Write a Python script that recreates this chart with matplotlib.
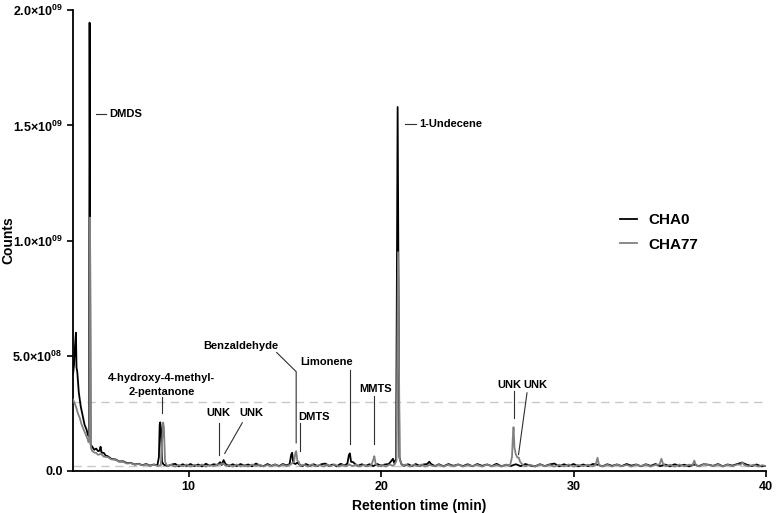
import matplotlib
matplotlib.use("Agg")
import matplotlib.pyplot as plt
import numpy as np

plt.rcParams['font.family'] = ['Liberation Sans', 'DejaVu Sans']
plt.rcParams['font.weight'] = 'bold'
plt.rcParams['mathtext.fontset'] = 'custom'
plt.rcParams['mathtext.rm'] = 'Liberation Sans'
plt.rcParams['mathtext.bf'] = 'Liberation Sans:bold'

# chromatogram traces, counts in units of 1e8
rt_cha0 = [
    4.00, 4.05, 4.10, 4.15, 4.18, 4.22, 4.30, 4.40, 4.50, 4.60, 4.70, 4.78, 4.83, 4.86, 4.91,
    5.00, 5.10, 5.20, 5.30, 5.38, 5.43, 5.48, 5.60, 5.70, 5.80, 6.00, 6.20, 6.40, 6.60, 6.80,
    7.00, 7.20, 7.40, 7.60, 7.80, 8.00, 8.20, 8.38, 8.46, 8.50, 8.53, 8.57, 8.62, 8.70, 8.90,
    9.10, 9.30, 9.50, 9.70, 9.90, 10.10, 10.30, 10.50, 10.70, 10.90, 11.10, 11.30, 11.50, 11.64, 11.72,
    11.82, 11.92, 12.10, 12.30, 12.50, 12.70, 12.90, 13.10, 13.30, 13.50, 13.70, 13.90, 14.10, 14.30, 14.50,
    14.70, 14.90, 15.10, 15.25, 15.33, 15.38, 15.44, 15.55, 15.65, 15.75, 15.90, 16.10, 16.30, 16.50, 16.70,
    16.90, 17.10, 17.30, 17.50, 17.70, 17.90, 18.10, 18.25, 18.33, 18.38, 18.44, 18.55, 18.65, 18.80, 19.00,
    19.20, 19.40, 19.60, 19.80, 20.00, 20.20, 20.40, 20.55, 20.62, 20.68, 20.78, 20.86, 20.95, 21.05, 21.20,
    21.40, 21.60, 21.80, 22.00, 22.20, 22.40, 22.50, 22.60, 22.80, 23.00, 23.25, 23.50, 23.75, 24.00, 24.25,
    24.50, 24.75, 25.00, 25.25, 25.50, 25.75, 26.00, 26.25, 26.50, 26.75, 27.00, 27.25, 27.50, 27.75, 28.00, 28.25,
    28.50, 28.75, 29.00, 29.25, 29.50, 29.75, 30.00, 30.25, 30.50, 30.75, 31.00, 31.25, 31.50, 31.75, 32.00, 32.25,
    32.50, 32.75, 33.00, 33.25, 33.50, 33.75, 34.00, 34.25, 34.50, 34.75, 35.00, 35.25, 35.50, 35.75, 36.00, 36.25,
    36.50, 36.75, 37.00, 37.25, 37.50, 37.75, 38.00, 38.25, 38.50, 38.75, 39.00, 39.25, 39.50, 39.75, 40.00,
]
counts_cha0 = [
    4.20, 4.60, 5.40, 6.00, 4.50, 4.30, 3.40, 2.80, 2.40, 2.00, 1.80, 1.55, 1.50, 19.46, 1.15,
    1.05, 0.92, 0.97, 0.86, 0.88, 1.05, 0.80, 0.78, 0.66, 0.64, 0.52, 0.50, 0.41, 0.42, 0.34,
    0.35, 0.28, 0.31, 0.25, 0.30, 0.23, 0.28, 0.24, 0.60, 2.00, 2.11, 1.80, 0.40, 0.28, 0.21,
    0.27, 0.31, 0.20, 0.29, 0.22, 0.30, 0.21, 0.28, 0.20, 0.31, 0.23, 0.29, 0.26, 0.38, 0.26,
    0.47, 0.30, 0.22, 0.29, 0.21, 0.30, 0.23, 0.28, 0.20, 0.32, 0.24, 0.21, 0.30, 0.22, 0.28,
    0.21, 0.30, 0.24, 0.30, 0.70, 0.79, 0.35, 0.30, 0.36, 0.28, 0.21, 0.30, 0.22, 0.29, 0.21,
    0.29, 0.32, 0.22, 0.28, 0.20, 0.31, 0.24, 0.32, 0.70, 0.76, 0.40, 0.38, 0.30, 0.22, 0.29,
    0.22, 0.29, 0.21, 0.30, 0.23, 0.28, 0.30, 0.45, 0.53, 0.35, 0.50, 15.80, 0.60, 0.30, 0.22,
    0.29, 0.21, 0.30, 0.22, 0.28, 0.30, 0.40, 0.30, 0.21, 0.29, 0.20, 0.30, 0.22, 0.28, 0.21,
    0.29, 0.20, 0.30, 0.22, 0.28, 0.21, 0.31, 0.20, 0.27, 0.22, 0.29, 0.21, 0.30, 0.23, 0.20, 0.29,
    0.21, 0.28, 0.32, 0.20, 0.29, 0.22, 0.30, 0.20, 0.28, 0.21, 0.30, 0.27, 0.20, 0.29, 0.22, 0.28,
    0.21, 0.30, 0.23, 0.28, 0.20, 0.29, 0.22, 0.30, 0.21, 0.28, 0.20, 0.29, 0.22, 0.27, 0.20, 0.28,
    0.21, 0.29, 0.27, 0.22, 0.30, 0.20, 0.28, 0.23, 0.30, 0.36, 0.27, 0.21, 0.28, 0.20, 0.22,
]

rt_cha77 = [
    4.00, 4.05, 4.15, 4.25, 4.35, 4.45, 4.55, 4.65, 4.75, 4.80, 4.84, 4.88, 4.93, 5.00, 5.10,
    5.20, 5.30, 5.45, 5.60, 5.80, 6.00, 6.20, 6.40, 6.60, 6.80, 7.00, 7.20, 7.40, 7.60, 7.80,
    8.00, 8.20, 8.40, 8.56, 8.62, 8.68, 8.72, 8.78, 8.90, 9.10, 9.30, 9.50, 9.70, 9.90, 10.10,
    10.30, 10.50, 10.70, 10.90, 11.10, 11.30, 11.50, 11.65, 11.80, 11.95, 12.10, 12.30, 12.50, 12.70, 12.90,
    13.10, 13.30, 13.50, 13.70, 13.90, 14.10, 14.30, 14.50, 14.70, 14.90, 15.10, 15.30, 15.48, 15.55, 15.59,
    15.65, 15.72, 15.80, 16.00, 16.20, 16.40, 16.60, 16.80, 17.00, 17.20, 17.40, 17.60, 17.80, 18.00, 18.20,
    18.35, 18.50, 18.70, 18.90, 19.10, 19.30, 19.50, 19.60, 19.65, 19.72, 19.85, 20.05, 20.25, 20.45, 20.60,
    20.72, 20.80, 20.88, 20.97, 21.10, 21.30, 21.50, 21.70, 21.90, 22.10, 22.30, 22.50, 22.75, 23.00, 23.25,
    23.50, 23.75, 24.00, 24.25, 24.50, 24.75, 25.00, 25.25, 25.50, 25.75, 26.00, 26.25, 26.50, 26.70, 26.80,
    26.84, 26.88, 26.93, 27.00, 27.08, 27.15, 27.22, 27.35, 27.50, 27.75, 28.00, 28.25, 28.50, 28.75, 29.00,
    29.25, 29.50, 29.75, 30.00, 30.25, 30.50, 30.75, 31.00, 31.15, 31.24, 31.33, 31.50, 31.75, 32.00, 32.25,
    32.50, 32.75, 33.00, 33.25, 33.50, 33.75, 34.00, 34.25, 34.47, 34.56, 34.65, 34.80, 35.00, 35.25, 35.50,
    35.75, 36.00, 36.18, 36.27, 36.36, 36.55, 36.75, 37.00, 37.25, 37.50, 37.75, 38.00, 38.25, 38.50, 38.68,
    38.77, 38.86, 39.10, 39.35, 39.60, 39.80, 40.00,
]
counts_cha77 = [
    3.10, 3.00, 2.80, 2.50, 2.30, 2.00, 1.80, 1.60, 1.40, 1.25, 1.30, 11.00, 1.00, 0.86, 0.80,
    0.78, 0.70, 0.74, 0.62, 0.60, 0.50, 0.49, 0.40, 0.40, 0.32, 0.34, 0.27, 0.30, 0.24, 0.28,
    0.22, 0.27, 0.21, 0.26, 1.20, 2.10, 1.90, 0.40, 0.20, 0.27, 0.19, 0.26, 0.20, 0.28, 0.19,
    0.27, 0.20, 0.28, 0.19, 0.26, 0.21, 0.27, 0.29, 0.32, 0.21, 0.27, 0.19, 0.28, 0.20, 0.26,
    0.19, 0.28, 0.22, 0.27, 0.19, 0.26, 0.20, 0.28, 0.19, 0.27, 0.21, 0.28, 0.40, 0.80, 0.86,
    0.45, 0.40, 0.22, 0.27, 0.19, 0.28, 0.20, 0.26, 0.19, 0.27, 0.21, 0.28, 0.19, 0.26, 0.20,
    0.28, 0.21, 0.27, 0.19, 0.26, 0.20, 0.26, 0.50, 0.64, 0.30, 0.20, 0.27, 0.19, 0.28, 0.22,
    0.30, 0.45, 9.50, 0.50, 0.22, 0.28, 0.19, 0.27, 0.20, 0.28, 0.19, 0.26, 0.20, 0.27, 0.19,
    0.27, 0.20, 0.28, 0.19, 0.26, 0.21, 0.27, 0.19, 0.28, 0.20, 0.26, 0.19, 0.27, 0.24, 0.60,
    1.40, 1.90, 1.00, 0.72, 0.58, 0.58, 0.40, 0.27, 0.20, 0.27, 0.19, 0.28, 0.20, 0.26, 0.19,
    0.27, 0.20, 0.28, 0.19, 0.26, 0.21, 0.27, 0.20, 0.28, 0.57, 0.24, 0.20, 0.27, 0.19, 0.28,
    0.20, 0.26, 0.19, 0.27, 0.21, 0.28, 0.19, 0.26, 0.28, 0.53, 0.30, 0.20, 0.27, 0.19, 0.28,
    0.20, 0.27, 0.26, 0.45, 0.24, 0.20, 0.29, 0.26, 0.21, 0.28, 0.19, 0.27, 0.20, 0.28, 0.27,
    0.38, 0.26, 0.20, 0.27, 0.19, 0.25, 0.21,
]

series_names = ['CHA0', 'CHA77']
ytick_values = [0, 5e8, 1e9, 1.5e9, 2e9]
ytick_labels = ['0.0',
                r'$\mathbf{5.0}{\times}\mathbf{10}^{\mathbf{08}}$',
                r'$\mathbf{1.0}{\times}\mathbf{10}^{\mathbf{09}}$',
                r'$\mathbf{1.5}{\times}\mathbf{10}^{\mathbf{09}}$',
                r'$\mathbf{2.0}{\times}\mathbf{10}^{\mathbf{09}}$']
xtick_values = [10, 20, 30, 40]
threshold_levels = [3.0e8, 2.0e7]

fig = plt.figure(figsize=(7.77, 5.13), dpi=100)
ax = fig.add_axes([0.094, 0.082, 0.892, 0.898])

for lvl in threshold_levels:
    ax.axhline(lvl, color='#c8c8c8', lw=1.0, ls=(0, (6, 4)), zorder=1)

ax.plot(rt_cha0, np.array(counts_cha0) * 1e8, color='black', lw=1.3, label=series_names[0], zorder=2)
ax.plot(rt_cha77, np.array(counts_cha77) * 1e8, color='#808080', lw=1.3, label=series_names[1], zorder=3)

ax.set_xlim(4, 40)
ax.set_ylim(0, 2e9)
ax.set_xticks(xtick_values)
ax.set_yticks(ytick_values)
ax.set_yticklabels(ytick_labels)
ax.tick_params(axis='both', labelsize=9, width=1.2, length=4, direction='out')
for s in ['top', 'right']:
    ax.spines[s].set_visible(False)
for s in ['left', 'bottom']:
    ax.spines[s].set_linewidth(1.3)

ax.set_xlabel('Retention time (min)', fontsize=10, fontweight='bold', labelpad=4)
ax.set_ylabel('Counts', fontsize=10, fontweight='bold')
ax.yaxis.set_label_coords(-0.083, 0.5)

# peak labels
lc = '#303030'
fs = 8
ax.plot([5.17, 5.69], [1.551e9, 1.551e9], color=lc, lw=0.8)
ax.text(5.9, 1.551e9, 'DMDS', fontsize=fs, fontweight='bold', va='center', ha='left')
ax.plot([21.22, 21.83], [1.507e9, 1.507e9], color=lc, lw=0.8)
ax.text(22.0, 1.507e9, '1-Undecene', fontsize=fs, fontweight='bold', va='center', ha='left')

ax.text(8.6, 0.373e9, '4-hydroxy-4-methyl-\n2-pentanone', fontsize=fs, fontweight='bold',
        ha='center', va='center', linespacing=1.4)
ax.plot([8.6, 8.6], [0.32e9, 0.25e9], color=lc, lw=0.8)

ax.text(11.56, 0.253e9, 'UNK', fontsize=fs, fontweight='bold', ha='center', va='center')
ax.text(13.27, 0.253e9, 'UNK', fontsize=fs, fontweight='bold', ha='center', va='center')
ax.plot([11.56, 11.56], [0.206e9, 0.071e9], color=lc, lw=0.8)
ax.plot([12.79, 11.88], [0.209e9, 0.076e9], color=lc, lw=0.8)

ax.text(12.7, 0.543e9, 'Benzaldehyde', fontsize=fs, fontweight='bold', ha='center', va='center')
ax.plot([14.58, 15.59, 15.59], [0.514e9, 0.431e9, 0.122e9], color=lc, lw=0.8)

ax.text(16.54, 0.235e9, 'DMTS', fontsize=fs, fontweight='bold', ha='center', va='center')
ax.plot([15.8, 15.8], [0.206e9, 0.086e9], color=lc, lw=0.8)

ax.text(17.15, 0.475e9, 'Limonene', fontsize=fs, fontweight='bold', ha='center', va='center')
ax.plot([18.36, 18.36], [0.44e9, 0.115e9], color=lc, lw=0.8)

ax.text(19.7, 0.356e9, 'MMTS', fontsize=fs, fontweight='bold', ha='center', va='center')
ax.plot([19.65, 19.65], [0.324e9, 0.115e9], color=lc, lw=0.8)

ax.text(26.66, 0.374e9, 'UNK', fontsize=fs, fontweight='bold', ha='center', va='center')
ax.text(28.04, 0.374e9, 'UNK', fontsize=fs, fontweight='bold', ha='center', va='center')
ax.plot([26.9, 26.9], [0.345e9, 0.230e9], color=lc, lw=0.8)
ax.plot([27.58, 27.14], [0.339e9, 0.071e9], color=lc, lw=0.8)

leg = ax.legend(loc='upper left', bbox_to_anchor=(0.77, 0.59), frameon=False,
                handlelength=1.1, handletextpad=0.7, labelspacing=0.7,
                prop={'size': 11, 'weight': 'bold'})

fig.savefig('out.png', dpi=100)
